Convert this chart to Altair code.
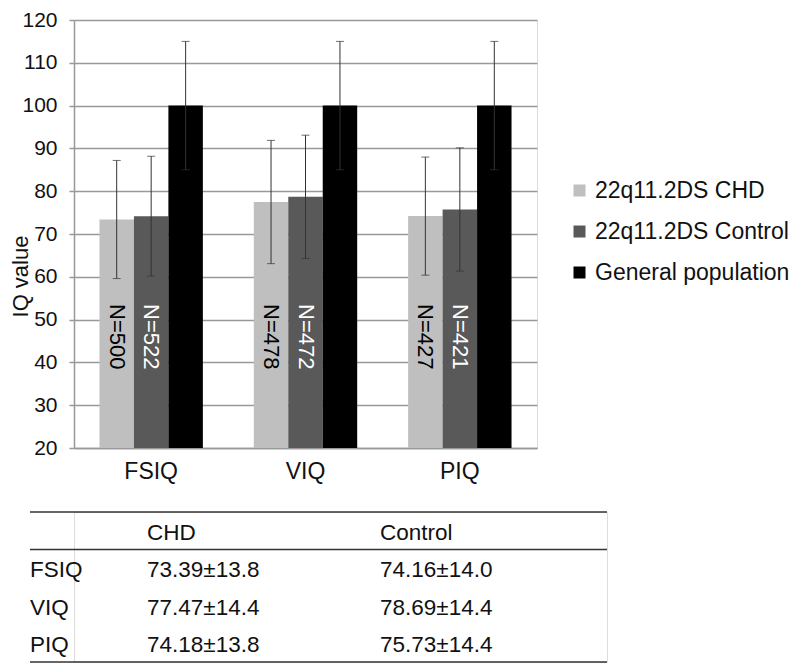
import altair as alt
import pandas as pd

FONT = "Liberation Sans"

tests = ["FSIQ", "VIQ", "PIQ"]
series = ["22q11.2DS CHD", "22q11.2DS Control", "General population"]
chd_mean = [73.39, 77.47, 74.18]
chd_sd = [13.8, 14.4, 13.8]
ctrl_mean = [74.16, 78.69, 75.73]
ctrl_sd = [14.0, 14.4, 14.4]
gp_mean = [100, 100, 100]
gp_sd = [15, 15, 15]
chd_n = [500, 478, 427]
ctrl_n = [522, 472, 421]
colors = ["#bfbfbf", "#595959", "#000000"]

table_cols = ["", "CHD", "Control"]
table_rows = ["FSIQ", "VIQ", "PIQ"]
table_chd = ["73.39±13.8", "77.47±14.4", "74.18±13.8"]
table_ctrl = ["74.16±14.0", "78.69±14.4", "75.73±14.4"]

# ---- bar chart data ----
recs = []
for i, t in enumerate(tests):
    recs.append(dict(test=t, series=series[0], mean=chd_mean[i], sd=chd_sd[i], label=f"N={chd_n[i]}"))
    recs.append(dict(test=t, series=series[1], mean=ctrl_mean[i], sd=ctrl_sd[i], label=f"N={ctrl_n[i]}"))
    recs.append(dict(test=t, series=series[2], mean=gp_mean[i], sd=gp_sd[i], label=""))
df = pd.DataFrame(recs)

GRID = "#999999"
y_scale = alt.Scale(domain=[20, 120], nice=False, zero=False)
y_axis = alt.Axis(
    title="IQ value", values=list(range(20, 121, 10)), grid=True,
    gridColor=GRID, gridWidth=1.5, domainColor=GRID, domainWidth=1.5,
    tickColor=GRID, tickWidth=1.5, tickSize=5, ticks=True,
    labelFontSize=21, labelPadding=12, labelColor="#111", labelFont=FONT,
    titleFontSize=22, titleFontWeight="normal", titleColor="#111", titleFont=FONT,
    titleX=-54, titleY=256, titleBaseline="middle", titleAlign="center",
)

base = alt.Chart(df).encode(
    x=alt.X("test:N", sort=tests,
            scale=alt.Scale(paddingInner=0.33, paddingOuter=0.165),
            axis=alt.Axis(title=None, labelAngle=0, ticks=False, tickSize=0,
                          labelPadding=12, labelFontSize=23, labelFont=FONT,
                          labelColor="#111", domainColor=GRID, domainWidth=1.5,
                          grid=False)),
    xOffset=alt.XOffset("series:N", sort=series,
                        scale=alt.Scale(paddingInner=0, paddingOuter=0)),
)

bars = base.mark_bar().encode(
    y=alt.Y("mean:Q", scale=y_scale, axis=y_axis),
    y2=alt.Y2(datum=20),
    color=alt.Color("series:N", sort=series,
                    scale=alt.Scale(domain=series, range=colors),
                    legend=alt.Legend(title=None, orient="none", legendX=494, legendY=159)),
)

err = base.transform_calculate(lo="datum.mean - datum.sd", hi="datum.mean + datum.sd")
whisk = err.mark_rule(color="#333333", strokeWidth=1).encode(
    y=alt.Y("lo:Q", scale=y_scale, axis=y_axis), y2="hi:Q")
cap_lo = err.mark_tick(color="#333333", size=8, thickness=1, orient="horizontal").encode(
    y=alt.Y("lo:Q", scale=y_scale, axis=y_axis))
cap_hi = err.mark_tick(color="#333333", size=8, thickness=1, orient="horizontal").encode(
    y=alt.Y("hi:Q", scale=y_scale, axis=y_axis))

txt_chd = base.transform_filter(alt.datum.series == series[0]).mark_text(
    angle=90, fontSize=22, font=FONT, align="center", baseline="middle", color="#000000"
).encode(y=alt.Y(datum=46, scale=y_scale, axis=y_axis), text="label:N")
txt_ctrl = base.transform_filter(alt.datum.series == series[1]).mark_text(
    angle=90, fontSize=22, font=FONT, align="center", baseline="middle", color="#ffffff"
).encode(y=alt.Y(datum=46, scale=y_scale, axis=y_axis), text="label:N")

top = alt.layer(bars, whisk, cap_lo, cap_hi, txt_chd, txt_ctrl).properties(width=463, height=428)

# ---- table ----
trecs = []
for j in (1, 2):
    trecs.append(dict(row="header", col=j, text=table_cols[j]))
for i, r in enumerate(table_rows):
    trecs.append(dict(row=r, col=0, text=r))
    trecs.append(dict(row=r, col=1, text=table_chd[i]))
    trecs.append(dict(row=r, col=2, text=table_ctrl[i]))
tdf = pd.DataFrame(trecs)
row_order = ["header"] + table_rows
row_scale = alt.Scale(domain=row_order, paddingInner=0, paddingOuter=0)

tbl_text = alt.Chart(tdf).mark_text(
    align="left", baseline="middle", fontSize=22.5, font=FONT, color="#111", dy=2
).encode(
    x=alt.X("col:Q", scale=alt.Scale(domain=[0, 1, 2], range=[-44, 73, 306]), axis=None),
    y=alt.Y("row:N", sort=row_order, scale=row_scale, axis=None),
    text="text:N",
)
rule_top = alt.Chart(pd.DataFrame({"row": ["header", "FSIQ"]})).mark_rule(
    color="#333333", strokeWidth=1.5
).encode(
    y=alt.Y("row:N", bandPosition=0, sort=row_order, scale=row_scale, axis=None),
    x=alt.value(-44), x2=alt.value(533),
)
rule_bot = alt.Chart(pd.DataFrame({"row": ["PIQ"]})).mark_rule(
    color="#333333", strokeWidth=1.5
).encode(
    y=alt.Y("row:N", bandPosition=1, sort=row_order, scale=row_scale, axis=None),
    x=alt.value(-44), x2=alt.value(533),
)
table = alt.layer(rule_top, rule_bot, tbl_text).properties(width=533, height=150)

chart = alt.vconcat(top, table, spacing=26,
                    padding={"left": 0, "top": 0, "right": 0, "bottom": 0}
).resolve_scale(
    x="independent", y="independent", color="independent"
).resolve_legend(
    color="independent"
).configure_view(
    stroke=None
).configure(
    font=FONT
).configure_legend(
    symbolType="square", symbolSize=144, symbolStrokeWidth=0, labelFontSize=23,
    labelFont=FONT, labelColor="#111", rowPadding=17, labelOffset=4, padding=0,
    labelLimit=400,
)

chart.save("out.html", embed_options={"renderer": "svg", "actions": False})
